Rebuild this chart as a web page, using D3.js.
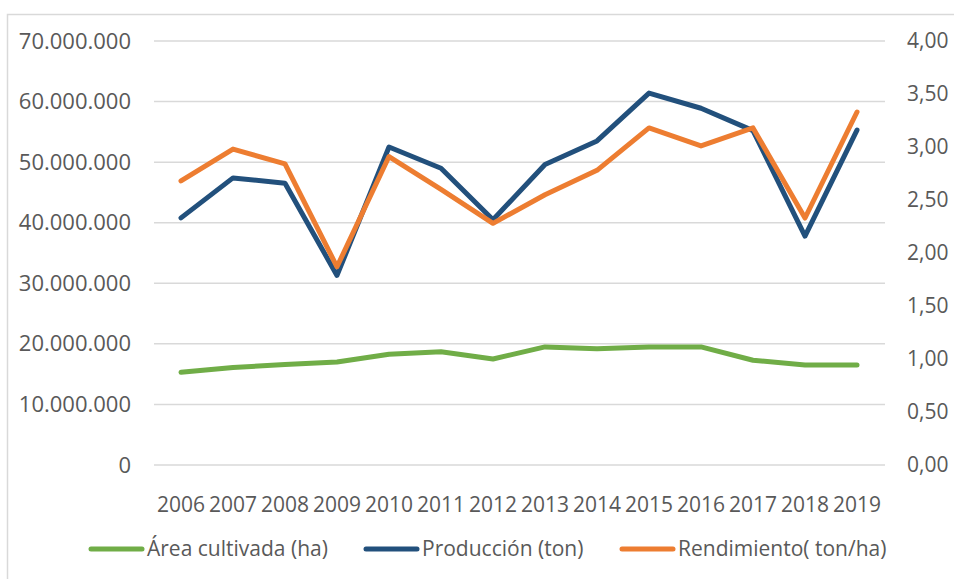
<!DOCTYPE html>
<html>
<meta charset="utf-8">
<style>
body {
  margin: 0;
  background: #fff;
}
svg text {
  font-family: "Open Sans", sans-serif;
  fill: #595959;
}
.grid line {
  stroke: #d9d9d9;
  stroke-width: 1.5;
}
.series {
  fill: none;
  stroke-width: 5;
  stroke-linejoin: round;
  stroke-linecap: round;
}
</style>
<body>
<script src="https://cdn.jsdelivr.net/npm/d3@7"></script>
<script>

// data
var years = ["2006", "2007", "2008", "2009", "2010", "2011", "2012", "2013", "2014", "2015", "2016", "2017", "2018", "2019"];
var area = [15300000, 16100000, 16600000, 17000000, 18300000, 18700000, 17500000, 19500000, 19200000, 19500000, 19500000, 17300000, 16500000, 16500000];
var produccion = [40800000, 47400000, 46500000, 31300000, 52500000, 49000000, 40500000, 49600000, 53500000, 61400000, 58900000, 55200000, 37800000, 55300000];
var rendimiento = [2.68, 2.98, 2.84, 1.87, 2.91, 2.60, 2.28, 2.55, 2.78, 3.18, 3.01, 3.18, 2.33, 3.33];
var leftTicks = [0, 10000000, 20000000, 30000000, 40000000, 50000000, 60000000, 70000000];
var rightTicks = [0, 0.5, 1, 1.5, 2, 2.5, 3, 3.5, 4];
var seriesNames = ["Área cultivada (ha)", "Producción (ton)", "Rendimiento( ton/ha)"];
var seriesColors = ["#70ad47", "#22507c", "#ed7d31"];

var width = 954, height = 579;
var plotTop = 41, plotBottom = 465, plotLeft = 155, plotRight = 883;

var es = d3.formatLocale({decimal: ",", thousands: ".", grouping: [3], currency: ["", ""]});
var fmtLeft = es.format(",.0f");
var fmtRight = es.format(".2f");

var svg = d3.select("body").append("svg")
    .attr("width", width)
    .attr("height", height);

// chart area border
svg.append("path")
    .attr("d", "M7.5," + height + "V14.5H" + width)
    .attr("fill", "none")
    .attr("stroke", "#d9d9d9")
    .attr("stroke-width", 1.5);

var x = d3.scaleBand().domain(years).range([plotLeft, plotRight]);
var yL = d3.scaleLinear().domain([0, 70000000]).range([plotBottom, plotTop]);
var yR = d3.scaleLinear().domain([0, 4]).range([plotBottom, plotTop]);

svg.append("g").attr("class", "grid")
  .selectAll("line")
  .data(leftTicks)
  .enter()
  .append("line")
    .attr("x1", plotLeft - 1)
    .attr("x2", plotRight + 2)
    .attr("y1", function(d) { return yL(d); })
    .attr("y2", function(d) { return yL(d); });

var axL = svg.append("g")
    .attr("transform", "translate(" + (plotLeft - 24) + ",0)")
    .call(d3.axisLeft(yL).tickValues(leftTicks).tickFormat(fmtLeft).tickSize(0).tickPadding(0));

var axR = svg.append("g")
    .attr("transform", "translate(" + (plotRight + 24) + ",0)")
    .call(d3.axisRight(yR).tickValues(rightTicks).tickFormat(fmtRight).tickSize(0).tickPadding(0));

var axB = svg.append("g")
    .attr("transform", "translate(0," + (plotBottom + 32) + ")")
    .call(d3.axisBottom(x).tickSize(0).tickPadding(0));

[axL, axR, axB].forEach(function(g) {
  g.select(".domain").remove();
  g.selectAll("text")
    .attr("fill", "#595959")
    .style("font-family", "'Open Sans', sans-serif")
    .style("font-size", "21px");
});
axL.selectAll("text").style("font-size", "22px");

function lineFor(scale) {
  return d3.line()
    .x(function(d, i) { return x(years[i]) + x.bandwidth() / 2; })
    .y(function(d) { return scale(d); });
}

var series = [
  {values: area, scale: yL},
  {values: produccion, scale: yL},
  {values: rendimiento, scale: yR}
];

svg.selectAll(".series")
  .data(series)
  .enter()
  .append("path")
    .attr("class", "series")
    .attr("stroke", function(d, i) { return seriesColors[i]; })
    .attr("d", function(d) { return lineFor(d.scale)(d.values); });

// legend
var legendX = [89, 364, 620];
var legend = svg.append("g").attr("transform", "translate(0,549)");
var item = legend.selectAll("g")
  .data(seriesNames)
  .enter()
  .append("g")
    .attr("transform", function(d, i) { return "translate(" + legendX[i] + ",0)"; });

item.append("line")
    .attr("x1", 2).attr("x2", 53)
    .attr("stroke", function(d, i) { return seriesColors[i]; })
    .attr("stroke-width", 5)
    .attr("stroke-linecap", "round");

item.append("text")
    .attr("x", 58)
    .attr("dy", "0.35em")
    .style("font-size", "21px")
    .text(function(d) { return d; });

</script>
</body>
</html>
